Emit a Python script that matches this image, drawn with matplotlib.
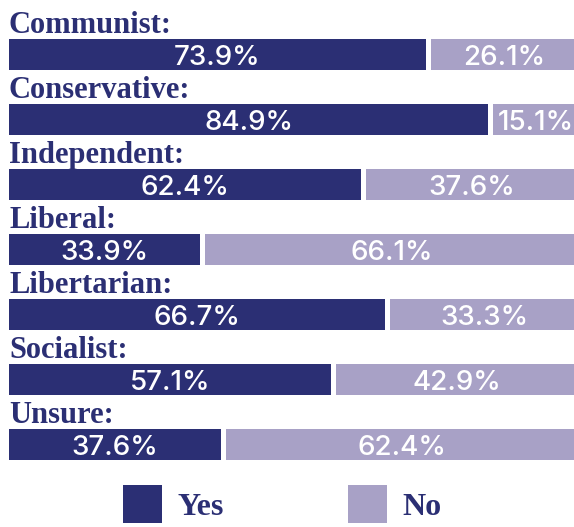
import matplotlib
matplotlib.use("Agg")
import matplotlib.pyplot as plt
from matplotlib.patches import Patch

# survey results by party affiliation
categories = ["Communist", "Conservative", "Independent", "Liberal",
              "Libertarian", "Socialist", "Unsure"]
yes_pct = [73.9, 84.9, 62.4, 33.9, 66.7, 57.1, 37.6]
no_pct = [26.1, 15.1, 37.6, 66.1, 33.3, 42.9, 62.4]
legend_labels = ["Yes", "No"]

dark = "#2b2f74"
light = "#a8a1c6"
label_font = "Liberation Serif"
num_font = "Inter"

W, H = 574, 527
fig = plt.figure(figsize=(W / 100, H / 100), dpi=100)

# axes in px-ish layout: bars start at x=9, rows every 65px starting at 55px
ax = fig.add_axes([9 / W, 0, (W - 9 + 6) / W, 1])
gap = 0.9  # gap between yes and no bar, in percent units
row_px = 65
first_px = 55
ax.set_xlim(0, 100 + gap + 0.3)
ax.set_ylim((H - first_px) / row_px, -first_px / row_px)
ax.axis("off")

bar_h = 31 / row_px
ys = list(range(len(categories)))
ax.barh(ys, yes_pct, height=bar_h, color=dark, edgecolor="none")
ax.barh(ys, no_pct, left=[v + gap for v in yes_pct], height=bar_h,
        color=light, edgecolor="none")

for y, cat, yv, nv in zip(ys, categories, yes_pct, no_pct):
    ax.text(0, y - bar_h / 2 - 6 / row_px, cat + ":", ha="left", va="baseline",
            fontsize=22, fontweight="bold", family=label_font, color=dark)
    ax.text(yv / 2, y, f"{yv}%", ha="center", va="center_baseline",
            fontsize=20, color="white", family=num_font, fontweight="medium")
    ax.text(yv + gap + nv / 2, y, f"{nv}%", ha="center", va="center_baseline",
            fontsize=20, color="white", family=num_font, fontweight="medium")

handles = [Patch(facecolor=dark, edgecolor="none"),
           Patch(facecolor=light, edgecolor="none")]
fs = 23
# legend squares ~39px; handleheight includes a descent term, hence 33.5
leg = fig.legend(handles, legend_labels, loc="lower left",
                 bbox_to_anchor=(123 / W, 4 / H), ncol=2, frameon=False,
                 handlelength=28 / fs, handleheight=33.5 / fs,
                 handletextpad=11.5 / fs, columnspacing=89 / fs,
                 borderpad=0, borderaxespad=0,
                 prop={"family": label_font, "weight": "bold", "size": fs})
for t in leg.get_texts():
    t.set_color(dark)

fig.savefig("out.png", dpi=100)
